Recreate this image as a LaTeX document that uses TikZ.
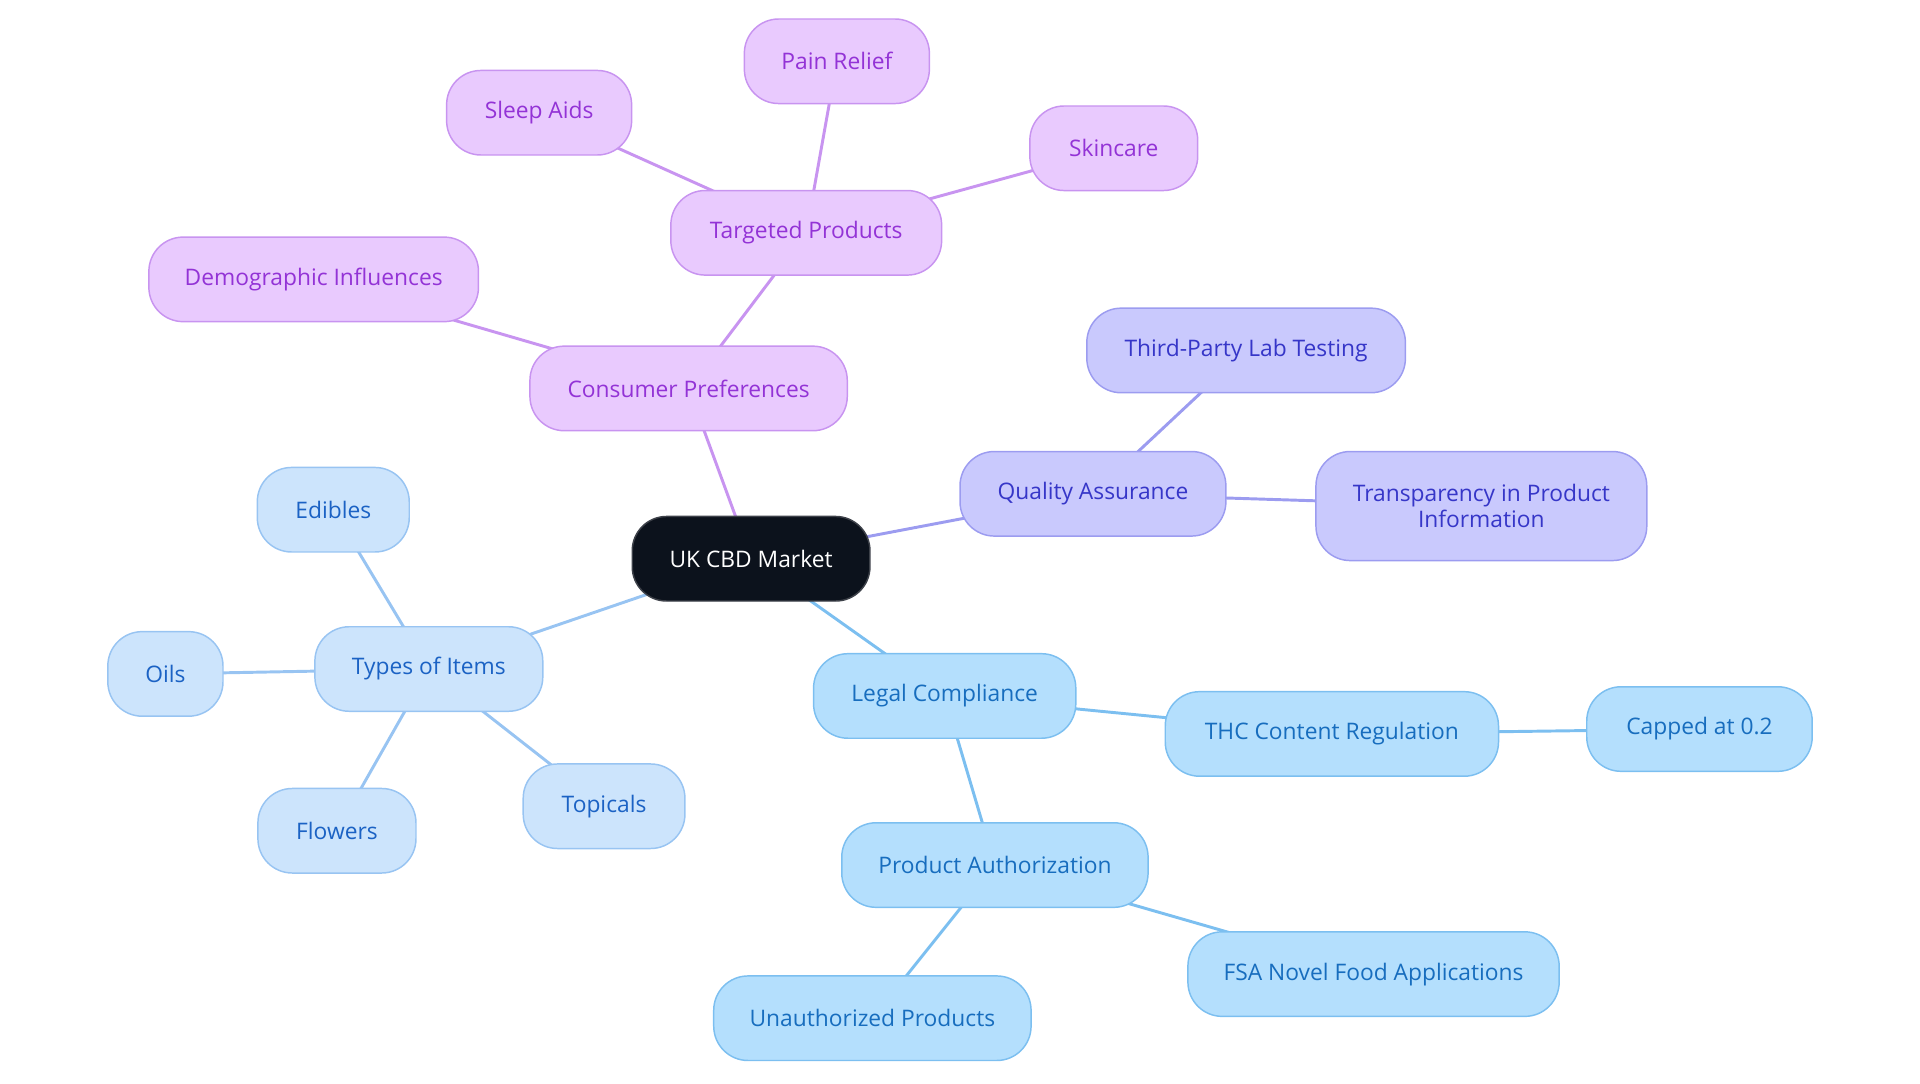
\documentclass[tikz,border=0pt]{standalone}
\usepackage{fontspec}
\setmainfont{Open Sans}
\usepackage{xcolor}
\usepackage{tikz}
\usetikzlibrary{positioning,backgrounds}
\definecolor{rootFill}{HTML}{0C121C}
\definecolor{purpleFill}{HTML}{E9CAFE}
\definecolor{purpleLine}{HTML}{C894F0}
\definecolor{purpleText}{HTML}{9333D6}
\definecolor{indigoFill}{HTML}{C9C9FD}
\definecolor{indigoLine}{HTML}{9C9CF0}
\definecolor{indigoText}{HTML}{3636C8}
\definecolor{blueFill}{HTML}{B4DFFD}
\definecolor{blueLine}{HTML}{7CBFF0}
\definecolor{blueText}{HTML}{176DBE}
\definecolor{skyFill}{HTML}{CCE4FC}
\definecolor{skyLine}{HTML}{98C4F2}
\definecolor{skyText}{HTML}{1B62C4}
\tikzset{
  topicBox/.style={
    rectangle,
    rounded corners=14pt,
    line width=0.6pt,
    minimum height=34.5pt,
    inner xsep=6pt,
    align=center,
    font=\fontsize{9.3}{10.6}\selectfont
  },
  rootBox/.style={
    topicBox,
    draw=rootFill!80!white,
    fill=rootFill,
    text=white
  },
  purpleBox/.style={topicBox, draw=purpleLine, fill=purpleFill, text=purpleText},
  indigoBox/.style={topicBox, draw=indigoLine, fill=indigoFill, text=indigoText},
  blueBox/.style={topicBox, draw=blueLine, fill=blueFill, text=blueText},
  skyBox/.style={topicBox, draw=skyLine, fill=skyFill, text=skyText},
  branchLine/.style={line width=1.2pt}
}
\begin{document}
\begin{tikzpicture}[x=0.5pt,y=-0.5pt]
        \useasboundingbox (0,0) rectangle (1567,884);
        \node[rootBox, minimum width=97pt] (market) at (613,456) {UK CBD Market};

        % consumer side
        \node[purpleBox, minimum width=129.5pt] (consumer) at (562,317) {Consumer Preferences};
        \node[purpleBox, minimum width=110.5pt] (targeted) at (658,190) {Targeted Products};
        \node[purpleBox, minimum width=75.5pt] (sleep) at (440,92) {Sleep Aids};
        \node[purpleBox, minimum width=75.5pt] (pain) at (683,50) {Pain Relief};
        \node[purpleBox, minimum width=68.5pt] (skincare) at (909,121) {Skincare};
        \node[purpleBox, minimum width=134.5pt] (demographic) at (256,228) {Demographic Influences};

        % quality side
        \node[indigoBox, minimum width=108.5pt] (quality) at (892,403) {Quality Assurance};
        \node[indigoBox, minimum width=130pt] (labTest) at (1017,286) {Third-Party Lab Testing};
        \node[indigoBox, minimum width=135pt, minimum height=44.5pt] (transparency) at (1209,413) {Transparency in Product\\Information};

        % product types
        \node[skyBox, minimum width=93pt] (types) at (350,546) {Types of Items};
        \node[skyBox, minimum width=62pt] (edibles) at (272,416) {Edibles};
        \node[skyBox, minimum width=47pt] (oils) at (135,550) {Oils};
        \node[skyBox, minimum width=64.5pt] (flowers) at (275,678) {Flowers};
        \node[skyBox, minimum width=66pt] (topicals) at (493,658) {Topicals};

        % legal side
        \node[blueBox, minimum width=107pt] (legal) at (771,568) {Legal Compliance};
        \node[blueBox, minimum width=136pt] (thc) at (1087,599) {THC Content Regulation};
        \node[blueBox, minimum width=92pt] (capped) at (1387,595) {Capped at 0.2};
        \node[blueBox, minimum width=125pt] (authorization) at (812,706) {Product Authorization};
        \node[blueBox, minimum width=129.5pt] (unauthorized) at (712,831) {Unauthorized Products};
        \node[blueBox, minimum width=151.5pt] (fsa) at (1121,795) {FSA Novel Food Applications};

        \begin{scope}[on background layer]
          \draw[branchLine, purpleLine] (market.center) -- (consumer.center);
          \draw[branchLine, purpleLine] (consumer.center) -- (targeted.center);
          \draw[branchLine, purpleLine] (consumer.center) -- (demographic.center);
          \draw[branchLine, purpleLine] (targeted.center) -- (sleep.center);
          \draw[branchLine, purpleLine] (targeted.center) -- (pain.center);
          \draw[branchLine, purpleLine] (targeted.center) -- (skincare.center);
          \draw[branchLine, indigoLine] (market.center) -- (quality.center);
          \draw[branchLine, indigoLine] (quality.center) -- (labTest.center);
          \draw[branchLine, indigoLine] (quality.center) -- (transparency.center);
          \draw[branchLine, skyLine] (market.center) -- (types.center);
          \draw[branchLine, skyLine] (types.center) -- (edibles.center);
          \draw[branchLine, skyLine] (types.center) -- (oils.center);
          \draw[branchLine, skyLine] (types.center) -- (flowers.center);
          \draw[branchLine, skyLine] (types.center) -- (topicals.center);
          \draw[branchLine, blueLine] (market.center) -- (legal.center);
          \draw[branchLine, blueLine] (legal.center) -- (thc.center);
          \draw[branchLine, blueLine] (thc.center) -- (capped.center);
          \draw[branchLine, blueLine] (legal.center) -- (authorization.center);
          \draw[branchLine, blueLine] (authorization.center) -- (unauthorized.center);
          \draw[branchLine, blueLine] (authorization.center) -- (fsa.center);
        \end{scope}
    \end{tikzpicture}
\end{document}
